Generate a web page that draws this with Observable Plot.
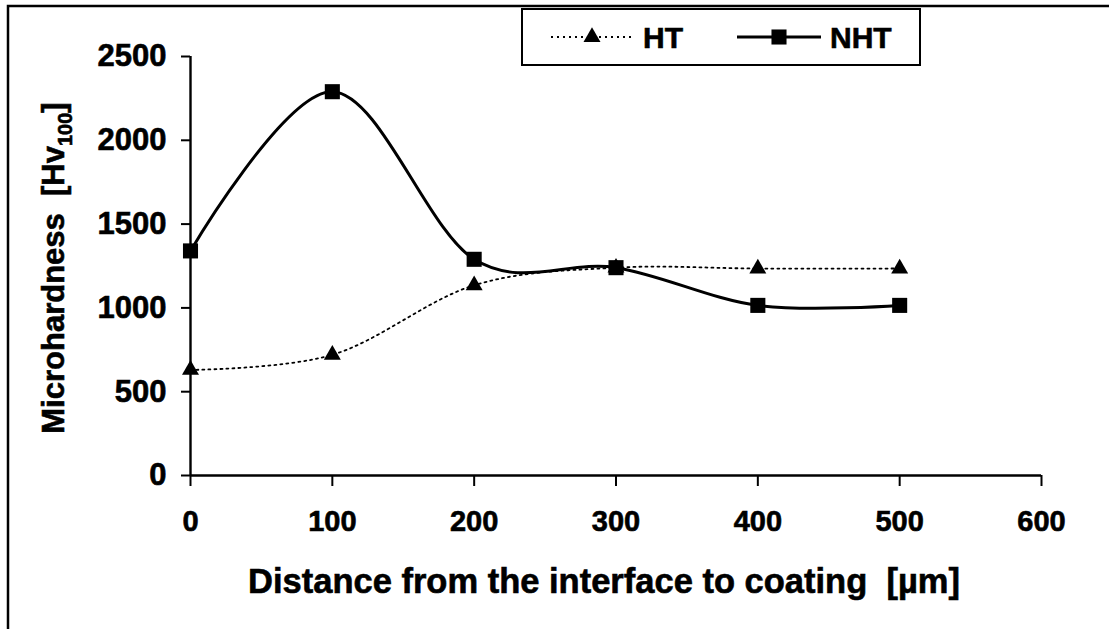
<!DOCTYPE html>
<html>
<head>
<meta charset="utf-8">
<script src="https://cdn.jsdelivr.net/npm/d3@7"></script>
<script src="https://cdn.jsdelivr.net/npm/@observablehq/plot@0.6"></script>
<style>
  body { margin: 0; background: #fff; }
  svg { display: block; }
  svg text { stroke: #000; stroke-width: 0.6px; }
</style>
</head>
<body>
<div id="chart"></div>
<script>
// Microhardness profiles measured from the coating interface
const distances = [0, 100, 200, 300, 400, 500];        // µm
const htValues  = [630, 720, 1135, 1240, 1235, 1235];   // heat treated, Hv100
const nhtValues = [1340, 2290, 1290, 1240, 1015, 1015]; // not heat treated, Hv100
const seriesNames = ["HT", "NHT"];
const xTicks = [0, 100, 200, 300, 400, 500, 600];
const yTicks = [0, 500, 1000, 1500, 2000, 2500];

const htRows = distances.map((d, i) => ({series: seriesNames[0], x: d, y: htValues[i]}));
const nhtRows = distances.map((d, i) => ({series: seriesNames[1], x: d, y: nhtValues[i]}));

const W = 1109, H = 629;
const FONT = "'Liberation Sans', Arial, Helvetica, sans-serif";
const plain = d => String(d);

const chart = Plot.plot({
  width: W,
  height: H,
  marginLeft: 190,
  marginRight: 68,
  marginTop: 56,
  marginBottom: 154,
  style: {fontFamily: FONT, fontWeight: "bold", fontSize: "28px", color: "#000", background: "#fff", overflow: "visible"},
  x: {domain: [0, 600], ticks: xTicks, label: null},
  y: {domain: [0, 2500], ticks: yTicks, label: null},
  marks: [
    Plot.axisY({ticks: yTicks, tickFormat: plain, tickSize: 9, tickPadding: 15, label: null, strokeWidth: 2, fontSize: 31}),
    Plot.axisX({ticks: xTicks, tickFormat: plain, tickSize: 11, tickPadding: 24, label: null, strokeWidth: 2, fontSize: 29}),
    Plot.ruleX([0], {stroke: "#000", strokeWidth: 2.4}),
    Plot.ruleY([0], {stroke: "#000", strokeWidth: 2.4}),
    Plot.line(htRows, {x: "x", y: "y", curve: "cardinal", stroke: "#000", strokeWidth: 1.8, strokeDasharray: "2,4"}),
    Plot.line(nhtRows, {x: "x", y: "y", curve: "cardinal", stroke: "#000", strokeWidth: 3}),
    Plot.dot(htRows, {x: "x", y: "y", symbol: "triangle", r: 6.3, fill: "#000", stroke: null}),
    Plot.dot(nhtRows, {x: "x", y: "y", symbol: "square", r: 8.5, fill: "#000", stroke: null})
  ]
});

const svg = d3.select(chart);

// figure border (left and top edges)
svg.append("path")
  .attr("d", `M8,${H} L8,6 L${W},6`)
  .attr("fill", "none").attr("stroke", "#000").attr("stroke-width", 2.5);

// axis titles
const yTitle = svg.append("text")
  .attr("transform", "translate(64,268) rotate(-90)")
  .attr("text-anchor", "middle")
  .attr("font-family", FONT).attr("font-weight", "bold").attr("font-size", 31)
  .style("white-space", "pre");
yTitle.append("tspan").text("Microhardness  [Hv");
yTitle.append("tspan").attr("font-size", 20).attr("dy", 8).text("100");
yTitle.append("tspan").attr("dy", -8).text("]");

svg.append("text")
  .attr("x", 604).attr("y", 593)
  .attr("text-anchor", "middle")
  .attr("font-family", FONT).attr("font-weight", "bold").attr("font-size", 34.5)
  .style("white-space", "pre")
  .text("Distance from the interface to coating  [µm]");

// legend box
const lg = svg.append("g").attr("text-anchor", "start");
lg.append("rect")
  .attr("x", 522).attr("y", 9).attr("width", 398).attr("height", 56)
  .attr("fill", "#fff").attr("stroke", "#000").attr("stroke-width", 2);
lg.append("line").attr("x1", 551).attr("x2", 633).attr("y1", 37).attr("y2", 37)
  .attr("stroke", "#000").attr("stroke-width", 1.8).attr("stroke-dasharray", "2,4");
lg.append("path").attr("d", d3.symbol(d3.symbolTriangle, Math.PI * 6.3 * 6.3)())
  .attr("transform", "translate(592,37)").attr("fill", "#000");
lg.append("text").attr("x", 643).attr("y", 48)
  .attr("font-family", FONT).attr("font-weight", "bold").attr("font-size", 30)
  .text(seriesNames[0]);
lg.append("line").attr("x1", 737).attr("x2", 821).attr("y1", 37).attr("y2", 37)
  .attr("stroke", "#000").attr("stroke-width", 3);
lg.append("path").attr("d", d3.symbol(d3.symbolSquare, Math.PI * 8.5 * 8.5)())
  .attr("transform", "translate(779,37)").attr("fill", "#000");
lg.append("text").attr("x", 830).attr("y", 48)
  .attr("font-family", FONT).attr("font-weight", "bold").attr("font-size", 30)
  .text(seriesNames[1]);

document.getElementById("chart").appendChild(chart);
</script>
</body>
</html>
